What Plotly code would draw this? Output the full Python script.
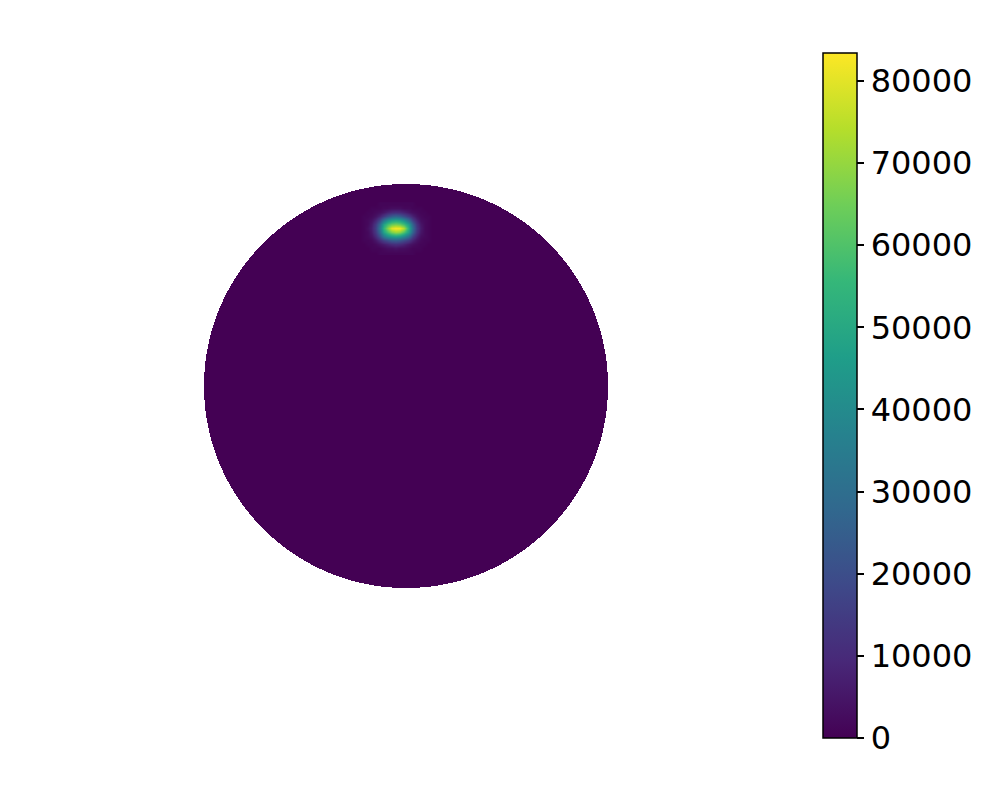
import numpy as np
import plotly.graph_objects as go

# sphere seen face-on, unit radius; value 0 everywhere except the hot spot
disk_res = 404
disk_value = 0

# hot spot patch near the top of the sphere (x, y in sphere units)
hot_x = [-0.23, -0.21, -0.19, -0.17, -0.15, -0.13, -0.11, -0.09, -0.07, -0.05,
         -0.03, -0.01, 0.01, 0.03, 0.05, 0.07, 0.09, 0.11, 0.13]
hot_y = [0.90, 0.88, 0.86, 0.84, 0.82, 0.80, 0.78, 0.76, 0.74, 0.72, 0.70,
         0.68, 0.66]
hot_z = [
    [0, 0, 0, 0, 0, 1, 1, 1, 1, 1, 1, 1, 1, 1, 0, 0, 0, 0, 0],
    [0, 0, 0, 1, 1, 1, 2, 2, 3, 3, 3, 2, 2, 1, 1, 1, 0, 0, 0],
    [0, 0, 1, 1, 2, 3, 5, 8, 10, 11, 10, 8, 5, 3, 2, 1, 1, 0, 0],
    [0, 1, 1, 2, 4, 8, 14, 20, 25, 27, 25, 20, 14, 8, 4, 2, 1, 1, 0],
    [0, 1, 2, 4, 9, 18, 32, 42, 48, 50, 48, 42, 30, 16, 8, 3, 2, 1, 0],
    [0, 1, 2, 6, 14, 28, 48, 58, 64, 66, 64, 58, 46, 26, 12, 5, 2, 1, 0],
    [0, 1, 3, 7, 16, 32, 54, 68, 80, 83, 82, 74, 52, 30, 14, 6, 2, 1, 0],
    [0, 1, 2, 6, 14, 28, 48, 58, 66, 70, 68, 60, 46, 26, 12, 5, 2, 1, 0],
    [0, 1, 2, 4, 10, 20, 34, 42, 46, 48, 46, 40, 30, 16, 8, 3, 2, 1, 0],
    [0, 1, 1, 2, 5, 10, 16, 20, 24, 25, 23, 19, 14, 8, 4, 2, 1, 1, 0],
    [0, 0, 1, 1, 2, 4, 6, 8, 10, 11, 10, 8, 5, 3, 2, 1, 1, 0, 0],
    [0, 0, 0, 1, 1, 1, 2, 3, 3, 4, 3, 3, 2, 1, 1, 1, 0, 0, 0],
    [0, 0, 0, 0, 0, 1, 1, 1, 1, 1, 1, 1, 1, 1, 0, 0, 0, 0, 0],
]  # thousands

z_max = 83400
cbar_ticks = [0, 10000, 20000, 30000, 40000, 50000, 60000, 70000, 80000]

# base disk: constant value inside the unit circle, blank outside
h = 2 / disk_res
g = np.linspace(-1 + h / 2, 1 - h / 2, disk_res)
gx, gy = np.meshgrid(g, g)
disk_z = np.where(gx**2 + gy**2 <= 1, disk_value, np.nan)

fig = go.Figure()
fig.add_trace(go.Heatmap(x=g, y=g, z=disk_z, coloraxis='coloraxis',
                         hoverinfo='skip'))
fig.add_trace(go.Heatmap(x=hot_x, y=hot_y,
                         z=np.array(hot_z, dtype=float) * 1000,
                         coloraxis='coloraxis', zsmooth='best'))

# the page body adds an 8px offset, so figure coords are screen coords - 8
fig.update_layout(
    width=997, height=793,
    margin=dict(l=0, r=0, t=0, b=0),
    paper_bgcolor='white', plot_bgcolor='white',
    font=dict(family='DejaVu Sans', size=32, color='black'),
    xaxis=dict(range=[-398 / 202, 599 / 202], visible=False),
    yaxis=dict(range=[-415 / 202, 378 / 202], visible=False),
    coloraxis=dict(
        colorscale='Viridis', cmin=0, cmax=z_max,
        colorbar=dict(
            x=815 / 997, xanchor='left', xpad=0,
            y=1 - 387.5 / 793, yanchor='middle',
            len=705 / 793, lenmode='fraction',
            thickness=34, thicknessmode='pixels',
            outlinewidth=1.5, outlinecolor='black',
            tickvals=cbar_ticks, tickformat='d', tickprefix='\u2005',
            ticks='outside', ticklen=7,
            tickwidth=1.5, tickcolor='black',
            tickfont=dict(family='DejaVu Sans', size=32, color='black'),
        ),
    ),
)

fig.write_html("out.html")
